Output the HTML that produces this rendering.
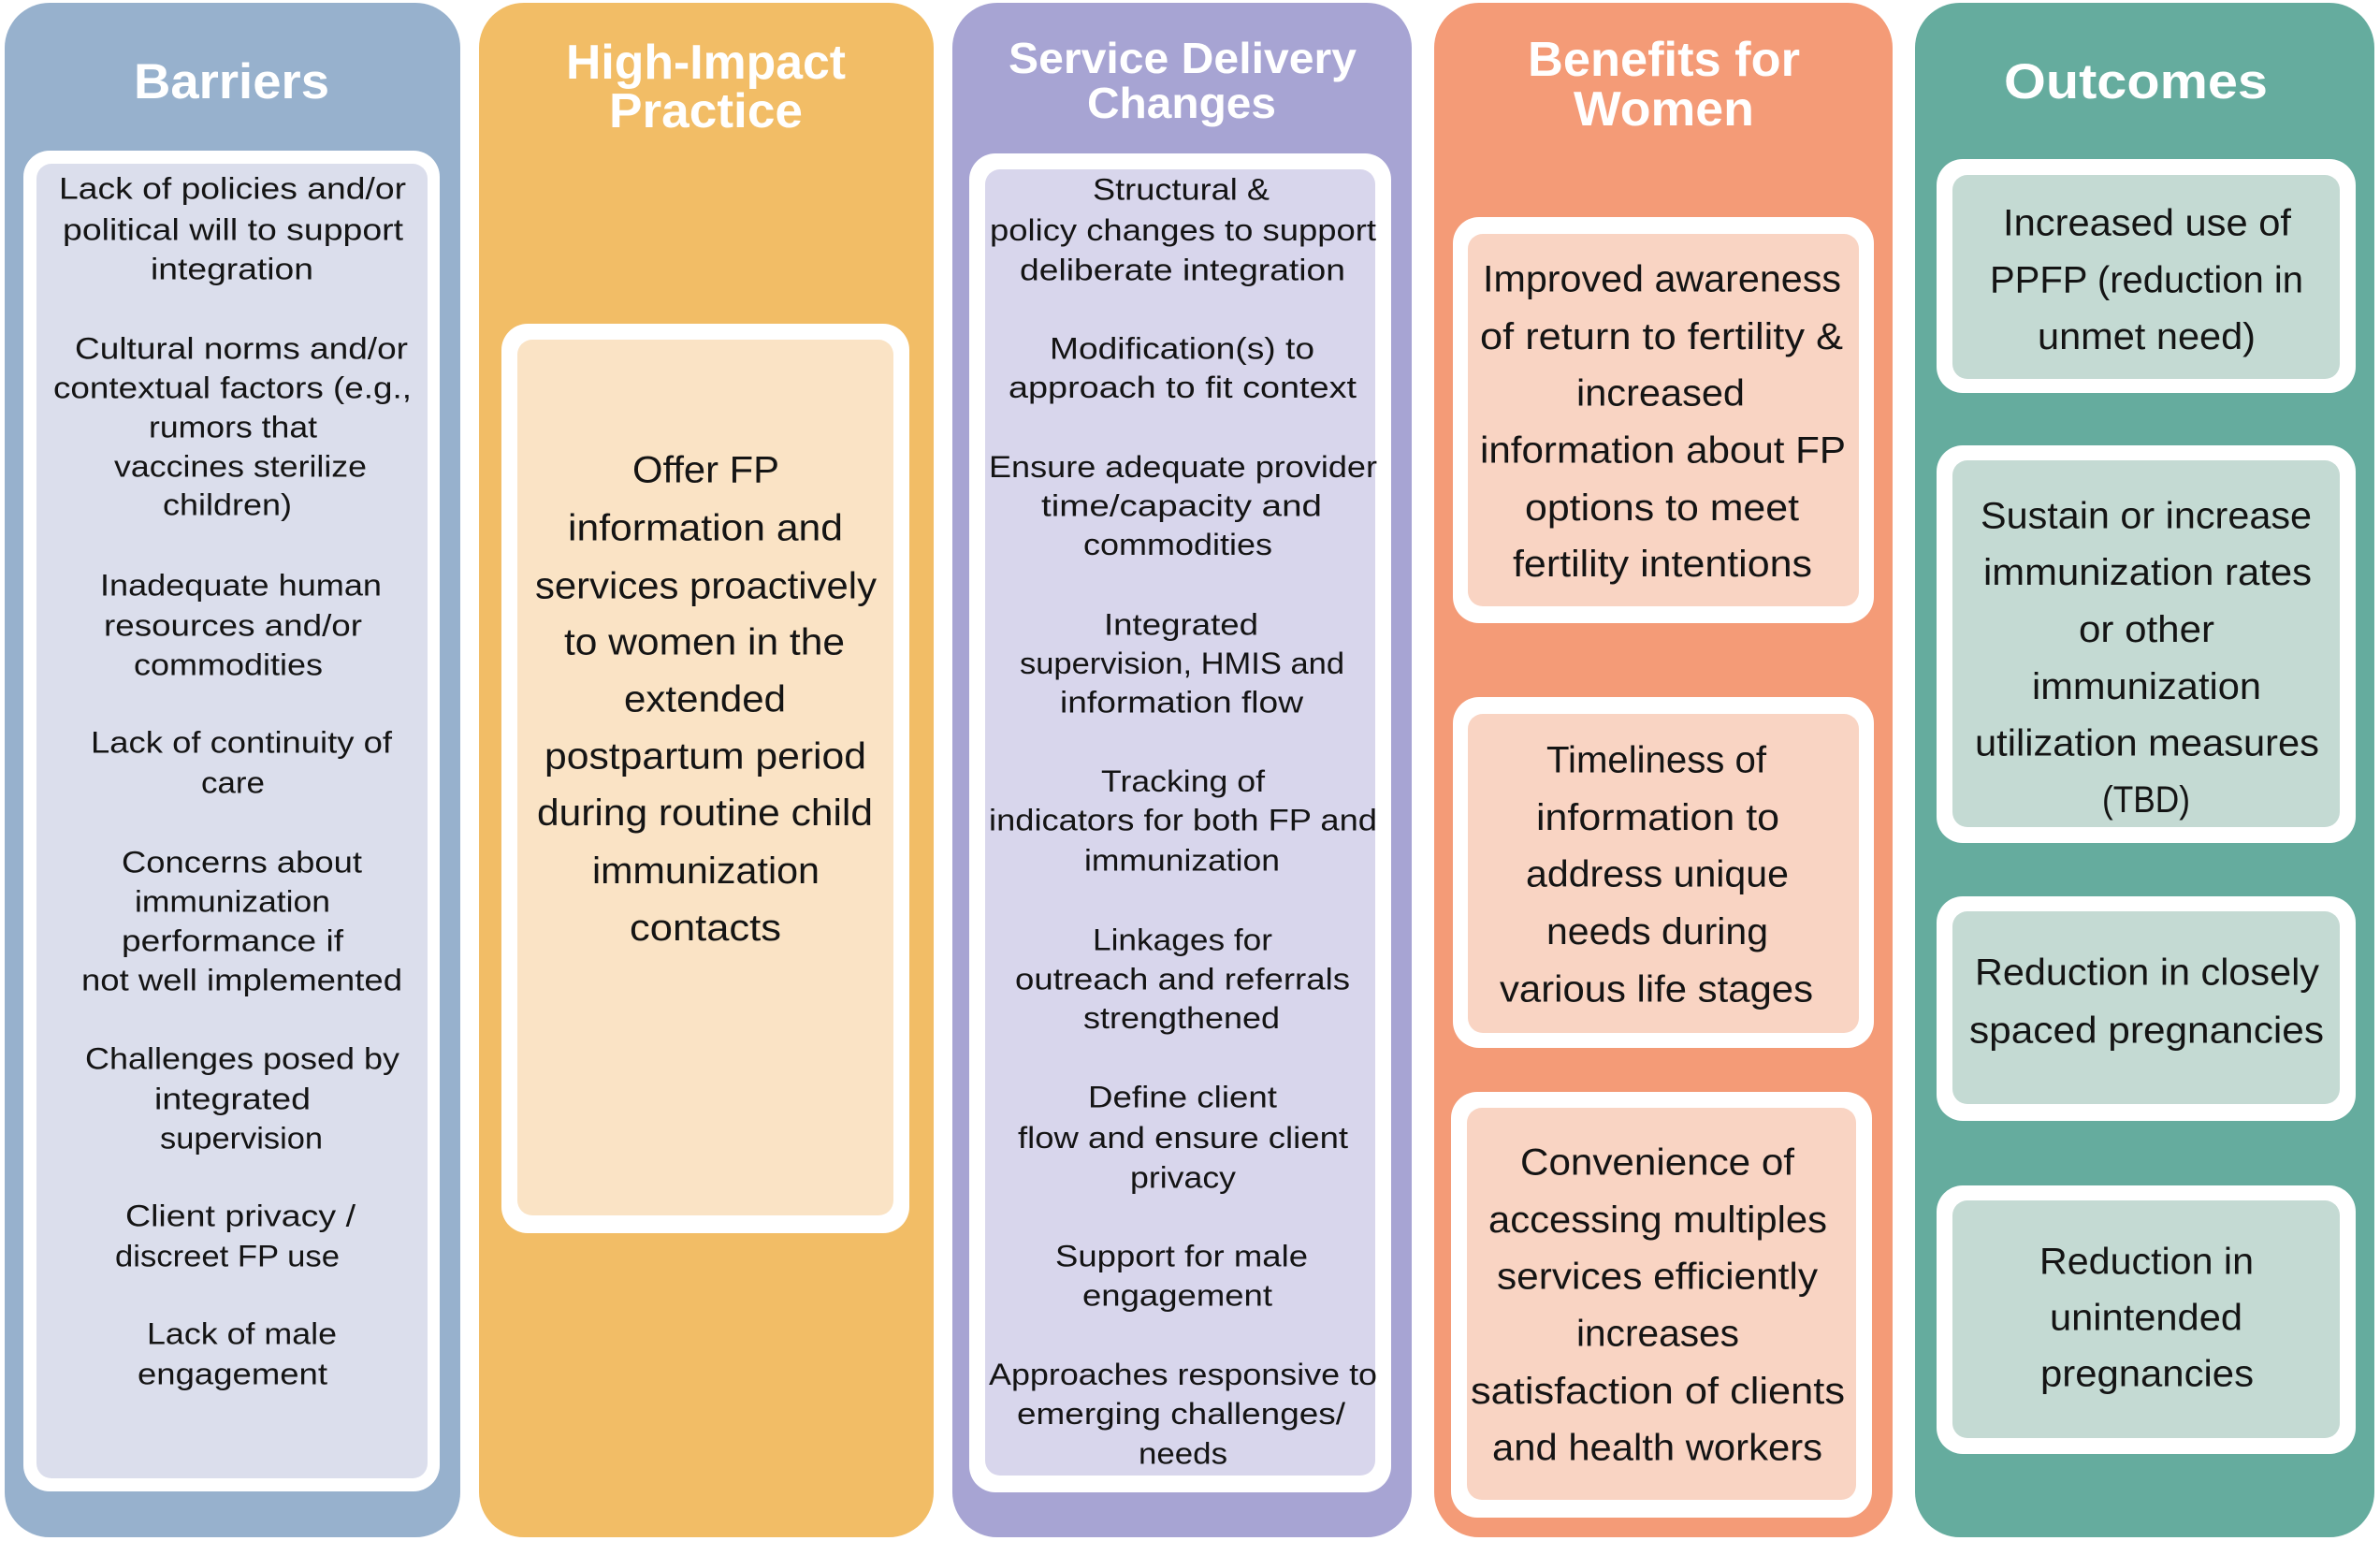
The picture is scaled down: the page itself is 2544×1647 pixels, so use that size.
<!DOCTYPE html>
<html>
<head>
<meta charset="utf-8">
<style>
html,body{margin:0;padding:0;background:#ffffff;}
svg{display:block;}
.b{font-family:"Liberation Sans",Arial,sans-serif;font-size:32px;fill:#141414;}
.m{font-family:"Liberation Sans",Arial,sans-serif;font-size:40px;fill:#141414;}
.t{font-family:"Liberation Sans",Arial,sans-serif;font-weight:bold;fill:#ffffff;}
</style>
</head>
<body>
<svg width="2544" height="1647" viewBox="0 0 2544 1647" xmlns="http://www.w3.org/2000/svg">
<rect x="0" y="0" width="2544" height="1647" fill="#ffffff"/>

<!-- Columns -->
<rect x="5" y="3" width="487" height="1640" rx="48" ry="48" fill="#97B1CD"/>
<rect x="512" y="3" width="486" height="1640" rx="48" ry="48" fill="#F2BD66"/>
<rect x="1018" y="3" width="491" height="1640" rx="48" ry="48" fill="#A7A4D3"/>
<rect x="1533" y="3" width="490" height="1640" rx="48" ry="48" fill="#F49B77"/>
<rect x="2047" y="3" width="491" height="1640" rx="48" ry="48" fill="#65AC9E"/>

<!-- Barriers boxes -->
<rect x="25" y="161" width="445" height="1433" rx="28" fill="#ffffff"/>
<rect x="39" y="175" width="418" height="1405" rx="16" fill="#DBDEEC"/>
<!-- HIP boxes -->
<rect x="536" y="346" width="436" height="972" rx="28" fill="#ffffff"/>
<rect x="553" y="363" width="402" height="936" rx="16" fill="#FAE3C5"/>
<!-- SD boxes -->
<rect x="1036" y="164" width="451" height="1431" rx="28" fill="#ffffff"/>
<rect x="1053" y="181" width="417" height="1396" rx="16" fill="#D8D6EC"/>
<!-- Benefits boxes -->
<rect x="1553" y="232" width="450" height="434" rx="28" fill="#ffffff"/>
<rect x="1569" y="250" width="418" height="398" rx="16" fill="#F9D4C3"/>
<rect x="1553" y="745" width="450" height="375" rx="28" fill="#ffffff"/>
<rect x="1569" y="763" width="418" height="341" rx="16" fill="#F9D4C3"/>
<rect x="1551" y="1167" width="450" height="455" rx="28" fill="#ffffff"/>
<rect x="1568" y="1184" width="416" height="419" rx="16" fill="#F9D4C3"/>
<!-- Outcomes boxes -->
<rect x="2070" y="170" width="448" height="250" rx="28" fill="#ffffff"/>
<rect x="2087" y="187" width="414" height="218" rx="16" fill="#C4DAD3"/>
<rect x="2070" y="476" width="448" height="425" rx="28" fill="#ffffff"/>
<rect x="2087" y="492" width="414" height="392" rx="16" fill="#C4DAD3"/>
<rect x="2070" y="958" width="448" height="240" rx="28" fill="#ffffff"/>
<rect x="2087" y="974" width="414" height="206" rx="16" fill="#C4DAD3"/>
<rect x="2070" y="1267" width="448" height="287" rx="28" fill="#ffffff"/>
<rect x="2087" y="1283" width="414" height="254" rx="16" fill="#C4DAD3"/>

<!-- Titles -->
<text class="t" font-size="53" x="143" y="105" textLength="209" lengthAdjust="spacingAndGlyphs">Barriers</text>
<text class="t" font-size="52" x="605" y="84" textLength="299" lengthAdjust="spacingAndGlyphs">High-Impact</text>
<text class="t" font-size="52" x="651" y="136" textLength="207" lengthAdjust="spacingAndGlyphs">Practice</text>
<text class="t" font-size="46" x="1078" y="78" textLength="372" lengthAdjust="spacingAndGlyphs">Service Delivery</text>
<text class="t" font-size="46" x="1162" y="126" textLength="202" lengthAdjust="spacingAndGlyphs">Changes</text>
<text class="t" font-size="52" x="1633" y="81" textLength="291" lengthAdjust="spacingAndGlyphs">Benefits for</text>
<text class="t" font-size="52" x="1682" y="134" textLength="193" lengthAdjust="spacingAndGlyphs">Women</text>
<text class="t" font-size="53" x="2142" y="105" textLength="282" lengthAdjust="spacingAndGlyphs">Outcomes</text>

<!-- Barriers text -->
<g class="b">
<text x="63" y="212.5" textLength="371" lengthAdjust="spacingAndGlyphs">Lack of policies and/or</text>
<text x="67" y="256.5" textLength="364" lengthAdjust="spacingAndGlyphs">political will to support</text>
<text x="161" y="298.5" textLength="174" lengthAdjust="spacingAndGlyphs">integration</text>
<text x="80" y="383.5" textLength="356" lengthAdjust="spacingAndGlyphs">Cultural norms and/or</text>
<text x="57" y="425.5" textLength="383" lengthAdjust="spacingAndGlyphs">contextual factors (e.g.,</text>
<text x="159" y="467.5" textLength="180" lengthAdjust="spacingAndGlyphs">rumors that</text>
<text x="122" y="509.5" textLength="270" lengthAdjust="spacingAndGlyphs">vaccines sterilize</text>
<text x="174" y="550.5" textLength="138" lengthAdjust="spacingAndGlyphs">children)</text>
<text x="107" y="636.5" textLength="301" lengthAdjust="spacingAndGlyphs">Inadequate human</text>
<text x="111" y="679.5" textLength="276" lengthAdjust="spacingAndGlyphs">resources and/or</text>
<text x="143" y="721.5" textLength="202" lengthAdjust="spacingAndGlyphs">commodities</text>
<text x="97" y="804.5" textLength="322" lengthAdjust="spacingAndGlyphs">Lack of continuity of</text>
<text x="215" y="847.5" textLength="68" lengthAdjust="spacingAndGlyphs">care</text>
<text x="130" y="932.5" textLength="257" lengthAdjust="spacingAndGlyphs">Concerns about</text>
<text x="144" y="974.5" textLength="209" lengthAdjust="spacingAndGlyphs">immunization</text>
<text x="130" y="1016.5" textLength="237" lengthAdjust="spacingAndGlyphs">performance if</text>
<text x="87" y="1058.5" textLength="343" lengthAdjust="spacingAndGlyphs">not well implemented</text>
<text x="91" y="1142.5" textLength="336" lengthAdjust="spacingAndGlyphs">Challenges posed by</text>
<text x="165" y="1185.5" textLength="167" lengthAdjust="spacingAndGlyphs">integrated</text>
<text x="171" y="1227.5" textLength="174" lengthAdjust="spacingAndGlyphs">supervision</text>
<text x="134" y="1310.5" textLength="246" lengthAdjust="spacingAndGlyphs">Client privacy /</text>
<text x="123" y="1353.5" textLength="240" lengthAdjust="spacingAndGlyphs">discreet FP use</text>
<text x="157" y="1436.5" textLength="203" lengthAdjust="spacingAndGlyphs">Lack of male</text>
<text x="147" y="1479.5" textLength="203" lengthAdjust="spacingAndGlyphs">engagement</text>
</g>

<!-- HIP text -->
<g class="m">
<text x="676" y="515.5" textLength="157" lengthAdjust="spacingAndGlyphs">Offer FP</text>
<text x="607" y="577.5" textLength="294" lengthAdjust="spacingAndGlyphs">information and</text>
<text x="572" y="639.5" textLength="365" lengthAdjust="spacingAndGlyphs">services proactively</text>
<text x="603" y="699.5" textLength="300" lengthAdjust="spacingAndGlyphs">to women in the</text>
<text x="667" y="760.5" textLength="173" lengthAdjust="spacingAndGlyphs">extended</text>
<text x="582" y="821.5" textLength="344" lengthAdjust="spacingAndGlyphs">postpartum period</text>
<text x="574" y="882" textLength="359" lengthAdjust="spacingAndGlyphs">during routine child</text>
<text x="633" y="944" textLength="243" lengthAdjust="spacingAndGlyphs">immunization</text>
<text x="673" y="1005" textLength="162" lengthAdjust="spacingAndGlyphs">contacts</text>
</g>

<!-- Service Delivery text -->
<g class="b">
<text x="1168" y="213.5" textLength="189" lengthAdjust="spacingAndGlyphs">Structural &amp;</text>
<text x="1058" y="257" textLength="413" lengthAdjust="spacingAndGlyphs">policy changes to support</text>
<text x="1090" y="299.5" textLength="348" lengthAdjust="spacingAndGlyphs">deliberate integration</text>
<text x="1122" y="383.5" textLength="283" lengthAdjust="spacingAndGlyphs">Modification(s) to</text>
<text x="1078" y="425" textLength="372" lengthAdjust="spacingAndGlyphs">approach to fit context</text>
<text x="1057" y="510" textLength="415" lengthAdjust="spacingAndGlyphs">Ensure adequate provider</text>
<text x="1113" y="551.5" textLength="300" lengthAdjust="spacingAndGlyphs">time/capacity and</text>
<text x="1158" y="593" textLength="202" lengthAdjust="spacingAndGlyphs">commodities</text>
<text x="1180" y="678.5" textLength="165" lengthAdjust="spacingAndGlyphs">Integrated</text>
<text x="1090" y="720" textLength="347" lengthAdjust="spacingAndGlyphs">supervision, HMIS and</text>
<text x="1133" y="761.5" textLength="260" lengthAdjust="spacingAndGlyphs">information flow</text>
<text x="1177" y="846" textLength="175" lengthAdjust="spacingAndGlyphs">Tracking of</text>
<text x="1057" y="887.5" textLength="415" lengthAdjust="spacingAndGlyphs">indicators for both FP and</text>
<text x="1159" y="930.5" textLength="209" lengthAdjust="spacingAndGlyphs">immunization</text>
<text x="1168" y="1015.5" textLength="192" lengthAdjust="spacingAndGlyphs">Linkages for</text>
<text x="1085" y="1057.5" textLength="358" lengthAdjust="spacingAndGlyphs">outreach and referrals</text>
<text x="1158" y="1099" textLength="210" lengthAdjust="spacingAndGlyphs">strengthened</text>
<text x="1163" y="1183.5" textLength="202" lengthAdjust="spacingAndGlyphs">Define client</text>
<text x="1088" y="1227" textLength="353" lengthAdjust="spacingAndGlyphs">flow and ensure client</text>
<text x="1208" y="1269.5" textLength="113" lengthAdjust="spacingAndGlyphs">privacy</text>
<text x="1128" y="1353.5" textLength="270" lengthAdjust="spacingAndGlyphs">Support for male</text>
<text x="1157" y="1395.5" textLength="203" lengthAdjust="spacingAndGlyphs">engagement</text>
<text x="1057" y="1480" textLength="415" lengthAdjust="spacingAndGlyphs">Approaches responsive to</text>
<text x="1087" y="1522" textLength="351" lengthAdjust="spacingAndGlyphs">emerging challenges/</text>
<text x="1217" y="1564.5" textLength="95" lengthAdjust="spacingAndGlyphs">needs</text>
</g>

<!-- Benefits text -->
<g class="m">
<text x="1585" y="311.5" textLength="383" lengthAdjust="spacingAndGlyphs">Improved awareness</text>
<text x="1582" y="373" textLength="388" lengthAdjust="spacingAndGlyphs">of return to fertility &amp;</text>
<text x="1685" y="433.5" textLength="180" lengthAdjust="spacingAndGlyphs">increased</text>
<text x="1582" y="494.5" textLength="391" lengthAdjust="spacingAndGlyphs">information about FP</text>
<text x="1630" y="556" textLength="293" lengthAdjust="spacingAndGlyphs">options to meet</text>
<text x="1617" y="616" textLength="320" lengthAdjust="spacingAndGlyphs">fertility intentions</text>

<text x="1653" y="825.5" textLength="235" lengthAdjust="spacingAndGlyphs">Timeliness of</text>
<text x="1642" y="887" textLength="260" lengthAdjust="spacingAndGlyphs">information to</text>
<text x="1631" y="947.5" textLength="281" lengthAdjust="spacingAndGlyphs">address unique</text>
<text x="1653" y="1009" textLength="237" lengthAdjust="spacingAndGlyphs">needs during</text>
<text x="1603" y="1070.5" textLength="335" lengthAdjust="spacingAndGlyphs">various life stages</text>

<text x="1625" y="1255.5" textLength="293" lengthAdjust="spacingAndGlyphs">Convenience of</text>
<text x="1591" y="1317" textLength="362" lengthAdjust="spacingAndGlyphs">accessing multiples</text>
<text x="1600" y="1377.5" textLength="343" lengthAdjust="spacingAndGlyphs">services efficiently</text>
<text x="1685" y="1438.5" textLength="174" lengthAdjust="spacingAndGlyphs">increases</text>
<text x="1572" y="1500" textLength="400" lengthAdjust="spacingAndGlyphs">satisfaction of clients</text>
<text x="1595" y="1560.5" textLength="353" lengthAdjust="spacingAndGlyphs">and health workers</text>
</g>

<!-- Outcomes text -->
<g class="m">
<text x="2141" y="251.5" textLength="308" lengthAdjust="spacingAndGlyphs">Increased use of</text>
<text x="2127" y="312.5" textLength="335" lengthAdjust="spacingAndGlyphs">PPFP (reduction in</text>
<text x="2178" y="373" textLength="233" lengthAdjust="spacingAndGlyphs">unmet need)</text>

<text x="2117" y="564.5" textLength="354" lengthAdjust="spacingAndGlyphs">Sustain or increase</text>
<text x="2120" y="625" textLength="351" lengthAdjust="spacingAndGlyphs">immunization rates</text>
<text x="2222" y="686" textLength="145" lengthAdjust="spacingAndGlyphs">or other</text>
<text x="2172" y="747" textLength="245" lengthAdjust="spacingAndGlyphs">immunization</text>
<text x="2111" y="807.5" textLength="368" lengthAdjust="spacingAndGlyphs">utilization measures</text>
<text x="2247" y="868" textLength="94" lengthAdjust="spacingAndGlyphs">(TBD)</text>

<text x="2111" y="1052.5" textLength="368" lengthAdjust="spacingAndGlyphs">Reduction in closely</text>
<text x="2105" y="1114.5" textLength="379" lengthAdjust="spacingAndGlyphs">spaced pregnancies</text>

<text x="2180" y="1361.5" textLength="229" lengthAdjust="spacingAndGlyphs">Reduction in</text>
<text x="2191" y="1421.5" textLength="206" lengthAdjust="spacingAndGlyphs">unintended</text>
<text x="2181" y="1481.5" textLength="228" lengthAdjust="spacingAndGlyphs">pregnancies</text>
</g>
</svg>
</body>
</html>
